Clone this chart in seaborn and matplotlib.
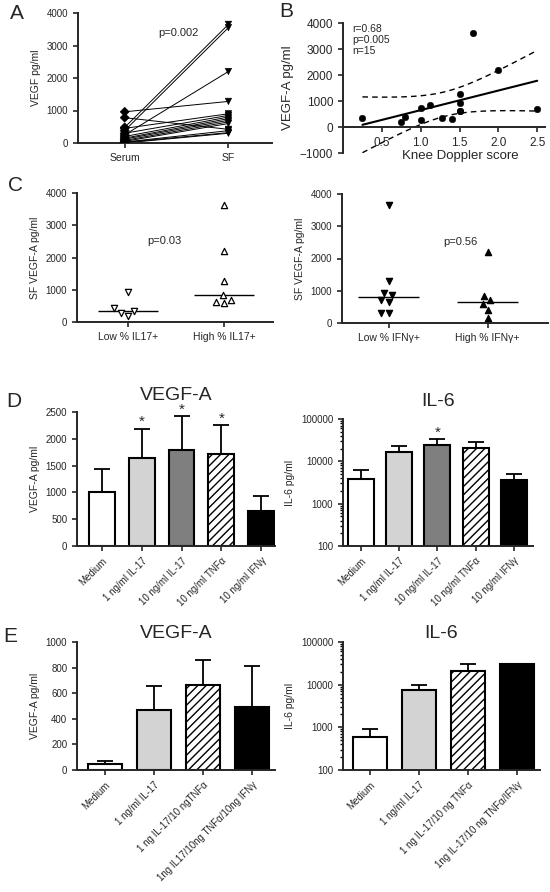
import numpy as np
import pandas as pd
import seaborn as sns
import matplotlib.pyplot as plt
from matplotlib.ticker import LogLocator, NullFormatter

sns.set_style("ticks")
plt.rcParams["font.family"] = ["Liberation Sans", "DejaVu Sans"]
plt.rcParams["axes.linewidth"] = 1.4
plt.rcParams["xtick.major.width"] = 1.2
plt.rcParams["ytick.major.width"] = 1.2
plt.rcParams["xtick.major.size"] = 3.5
plt.rcParams["ytick.major.size"] = 3.5
plt.rcParams["xtick.labelsize"] = 7
plt.rcParams["ytick.labelsize"] = 7
plt.rcParams["hatch.linewidth"] = 1.0

# --- A: paired serum vs SF VEGF ---
a_serum = [960, 780, 480, 380, 250, 450, 300, 200, 150, 120, 80, 50, 30, 20, 0]
a_sf = [1280, 420, 3650, 3550, 2200, 900, 850, 800, 750, 700, 650, 600, 380, 320, 300]

# --- B: knee Doppler score vs VEGF-A ---
b_score = [0.25, 0.75, 0.8, 1.0, 1.0, 1.12, 1.28, 1.4, 1.5, 1.5, 1.5, 1.5, 1.67, 2.0, 2.5]
b_vegf = [330, 180, 400, 720, 280, 850, 330, 300, 1280, 920, 620, 600, 3620, 2200, 700]

# --- C: SF VEGF-A by % IL17+ / % IFNg+ ---
c_il17_low = [920, 330, 200, 280, 420]
c_il17_high = [3620, 2200, 1280, 830, 680, 600, 620]
c_ifn_low = [3650, 1300, 930, 870, 720, 660, 300, 310]
c_ifn_high = [2200, 840, 700, 590, 400, 160]

# --- D: single stimulations ---
d_labels = ["Medium", "1 ng/ml IL-17", "10 ng/ml IL-17", "10 ng/ml TNF\u03b1", "10 ng/ml IFN\u03b3"]
d_vegf_mean = [1000, 1640, 1790, 1710, 650]
d_vegf_err = [430, 540, 630, 540, 280]
d_vegf_sig = [False, True, True, True, False]
d_il6_mean = [3900, 16500, 24500, 20500, 3700]
d_il6_err = [2300, 6500, 8500, 8000, 1200]
d_il6_sig = [False, False, True, False, False]

# --- E: combined stimulations ---
e_vegf_labels = ["Medium", "1 ng/ml IL-17", "1 ng IL-17/10 ngTNF\u03b1", "1ng IL17/10ng TNF\u03b1/10ng IFN\u03b3"]
e_vegf_mean = [50, 470, 665, 490]
e_vegf_err = [20, 185, 195, 325]
e_il6_labels = ["Medium", "1 ng/ml IL-17", "1 ng IL-17/10 ng TNF\u03b1", "1ng IL-17/10 ng TNF\u03b1/IFN\u03b3"]
e_il6_mean = [600, 7600, 21000, 30000]
e_il6_err = [330, 2400, 10000, 1000]

bar_colors_d = ["white", "#d3d3d3", "#7f7f7f", "white", "black"]
bar_colors_e = ["white", "#d3d3d3", "white", "black"]
log_ticks = [100, 1000, 10000, 100000]

W, H = 550, 892
fig = plt.figure(figsize=(W / 100, H / 100), dpi=100)


def add_ax(x0, y0, x1, y1):
    return fig.add_axes([x0 / W, 1 - y1 / H, (x1 - x0) / W, (y1 - y0) / H])


def clean(ax):
    sns.despine(ax=ax)
    ax.set_xlabel("")


# ---------- A ----------
ax = add_ax(78, 13, 272, 143)
n = len(a_serum)
dfa = pd.DataFrame({
    "subject": list(range(n)) * 2,
    "group": ["Serum"] * n + ["SF"] * n,
    "value": a_serum + a_sf,
})
sns.lineplot(data=dfa, x="group", y="value", units="subject", estimator=None,
             color="black", lw=0.7, sort=False, ax=ax)
sns.scatterplot(data=dfa, x="group", y="value", style="group",
                markers={"Serum": "D", "SF": "v"}, color="black", s=22,
                edgecolor="black", legend=False, ax=ax, zorder=3)
ax.set_xlim(-0.45, 1.42)
ax.set_ylim(0, 4000)
ax.set_yticks([0, 1000, 2000, 3000, 4000])
ax.set_ylabel("VEGF pg/ml", fontsize=7.5)
ax.tick_params(axis="x", labelsize=7.5)
ax.text(0.32, 3400, "p=0.002", fontsize=8, va="center")
clean(ax)

# ---------- B ----------
ax = add_ax(343, 23, 545, 153)
sns.scatterplot(x=b_score, y=b_vegf, color="black", s=22, edgecolor="black", ax=ax, zorder=3)
xb = np.array(b_score)
yb = np.array(b_vegf)
slope, intercept = np.polyfit(xb, yb, 1)
xs = np.linspace(xb.min(), xb.max(), 100)
fit = slope * xs + intercept
resid = yb - (slope * xb + intercept)
s = np.sqrt(np.sum(resid ** 2) / (len(xb) - 2))
sxx = np.sum((xb - xb.mean()) ** 2)
half = 2.16 * s * np.sqrt(1 / len(xb) + (xs - xb.mean()) ** 2 / sxx)
ax.plot(xs, fit, color="black", lw=1.5)
ax.plot(xs, fit + half, color="black", lw=1, ls=(0, (4, 3)))
ax.plot(xs, fit - half, color="black", lw=1, ls=(0, (4, 3)))
ax.set_xlim(0, 2.6)
ax.set_ylim(-1000, 4000)
ax.set_yticks([-1000, 0, 1000, 2000, 3000, 4000])
ax.set_xticks([0.5, 1.0, 1.5, 2.0, 2.5])
ax.set_xticklabels(["0.5", "1.0", "1.5", "2.0", "2.5"])
ax.tick_params(labelsize=8.5)
sns.despine(ax=ax)
ax.spines["bottom"].set_position(("data", 0))
ax.set_ylabel("VEGF-A pg/ml", fontsize=9.5)
ax.set_xlabel("Knee Doppler score", fontsize=9.5)
ax.xaxis.set_label_coords(0.58, 0.025)
ax.text(0.12, 3950, "r=0.68\np=0.005\nn=15", fontsize=7.5, va="top", linespacing=1.1)


# ---------- C ----------
def median_plot(ax, low, high, names, filled, xlim):
    df = pd.DataFrame({"g": [names[0]] * len(low) + [names[1]] * len(high),
                       "v": low + high})
    fc = "black" if filled else "white"
    sns.swarmplot(data=df[df.g == names[0]], x="g", y="v", order=names, marker="v",
                  color=fc, edgecolor="black", linewidth=0.9, size=4.5, ax=ax)
    sns.swarmplot(data=df[df.g == names[1]], x="g", y="v", order=names, marker="^",
                  color=fc, edgecolor="black", linewidth=0.9, size=4.5, ax=ax)
    for i, vals in enumerate([low, high]):
        ax.hlines(np.median(vals), i - 0.31, i + 0.31, color="black", lw=1)
    ax.set_xlim(*xlim)
    ax.set_ylim(0, 4000)
    ax.set_yticks([0, 1000, 2000, 3000, 4000])
    ax.set_ylabel("SF VEGF-A pg/ml", fontsize=7.5)
    ax.tick_params(axis="x", labelsize=7.5)
    clean(ax)


ax = add_ax(77, 193, 273, 322)
median_plot(ax, c_il17_low, c_il17_high, ["Low % IL17+", "High % IL17+"], False, (-0.53, 1.51))
ax.text(0.2, 2500, "p=0.03", fontsize=8, va="center")
ax = add_ax(342, 194, 548, 323)
median_plot(ax, c_ifn_low, c_ifn_high, ["Low % IFN\u03b3+", "High % IFN\u03b3+"], True, (-0.47, 1.61))
ax.text(0.55, 2500, "p=0.56", fontsize=8, va="center")


# ---------- D / E bars ----------
def bar_panel(ax, labels, means, errs, colors, hatch_idx, width, log, title, ylabel,
              sig=None, pad=9):
    df = pd.DataFrame({"cond": labels, "val": means})
    sns.barplot(data=df, x="cond", y="val", hue="cond", palette=colors, legend=False,
                edgecolor="black", linewidth=1.5, width=width, errorbar=None,
                ax=ax, zorder=2)
    ax.patches[hatch_idx].set_hatch("////")
    pos = np.arange(len(labels))
    ax.errorbar(pos, means, yerr=[np.zeros(len(means)), errs], fmt="none",
                ecolor="black", elinewidth=1.3, capsize=6, capthick=1.3, zorder=1)
    if sig is not None:
        for i, flag in enumerate(sig):
            if flag:
                ax.annotate("*", (i, means[i] + errs[i]), xytext=(0, 0),
                            textcoords="offset points", ha="center", va="bottom",
                            fontsize=11)
    ax.set_title(title, fontsize=14, pad=pad)
    ax.set_ylabel(ylabel, fontsize=7.5)
    ax.tick_params(axis="x", labelrotation=45, labelsize=7)
    for lab in ax.get_xticklabels():
        lab.set_ha("right")
        lab.set_rotation_mode("anchor")
    clean(ax)
    if log:
        ax.set_yscale("log")
        ax.set_ylim(100, 100000)
        ax.set_yticks(log_ticks, labels=[str(t) for t in log_ticks])
        ax.yaxis.set_minor_locator(LogLocator(base=10, subs=np.arange(2, 10), numticks=20))
        ax.yaxis.set_minor_formatter(NullFormatter())
        ax.tick_params(axis="y", which="minor", left=True, length=2.5, width=1.0,
                       color="black")


ax = add_ax(77, 412, 275, 546)
bar_panel(ax, d_labels, d_vegf_mean, d_vegf_err, bar_colors_d, 3, 0.65, False,
          "VEGF-A", "VEGF-A pg/ml", d_vegf_sig)
ax.set_xlim(-0.63, 4.35)
ax.set_ylim(0, 2500)
ax.set_yticks([0, 500, 1000, 1500, 2000, 2500])

ax = add_ax(343, 419, 533, 546)
bar_panel(ax, d_labels, d_il6_mean, d_il6_err, bar_colors_d, 3, 0.68, True,
          "IL-6", "IL-6 pg/ml", d_il6_sig)
ax.set_xlim(-0.47, 4.5)

ax = add_ax(77, 642, 275, 770)
bar_panel(ax, e_vegf_labels, e_vegf_mean, e_vegf_err, bar_colors_e, 2, 0.68, False,
          "VEGF-A", "VEGF-A pg/ml", pad=3)
ax.set_xlim(-0.57, 3.47)
ax.set_ylim(0, 1000)
ax.set_yticks([0, 200, 400, 600, 800, 1000])

ax = add_ax(343, 642, 540, 770)
bar_panel(ax, e_il6_labels, e_il6_mean, e_il6_err, bar_colors_e, 2, 0.68, True,
          "IL-6", "IL-6 pg/ml", pad=3)
ax.set_xlim(-0.55, 3.47)

# panel letters
for letter, (px, py) in {"A": (10, 4), "B": (279, 2), "C": (8, 176),
                         "D": (6, 392), "E": (3, 627)}.items():
    fig.text(px / W, 1 - py / H, letter, fontsize=15, va="top", ha="left")

fig.savefig("out.png", dpi=100)
